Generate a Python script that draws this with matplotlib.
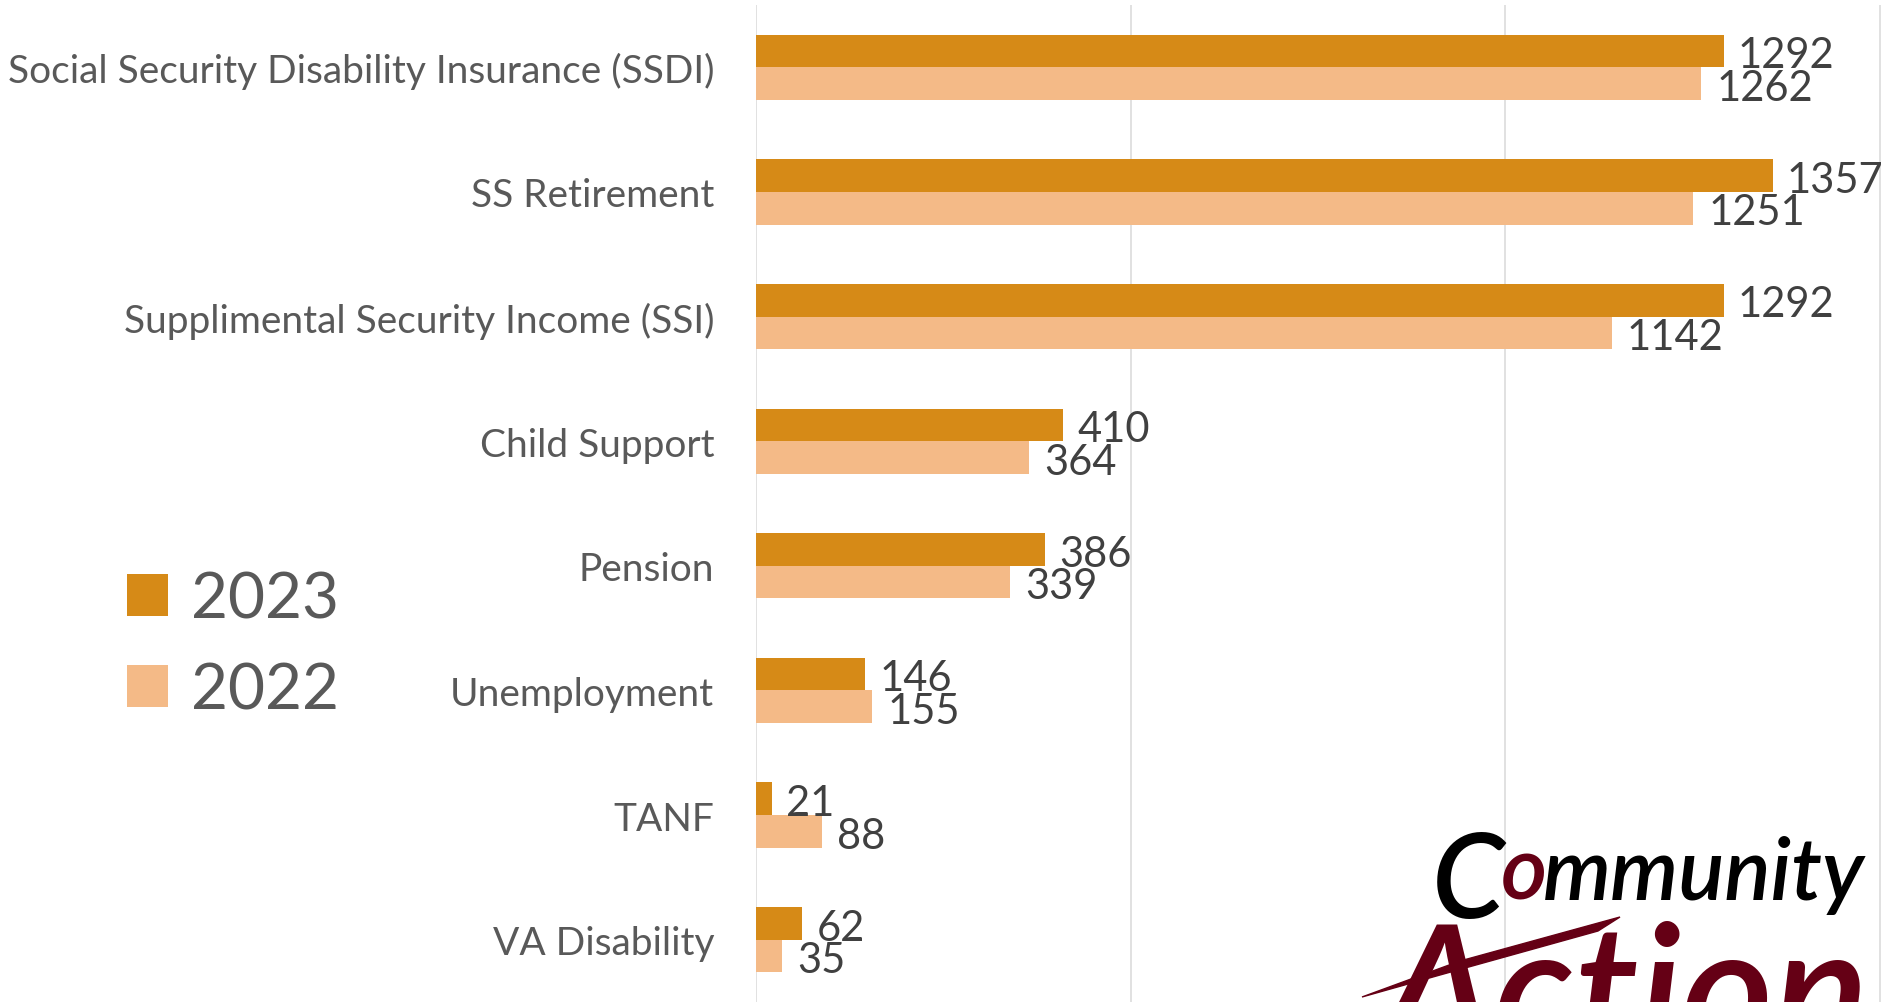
import matplotlib
matplotlib.use("Agg")
import matplotlib.pyplot as plt
from matplotlib.patches import Polygon
import numpy as np

categories = ["Social Security Disability Insurance (SSDI)", "SS Retirement",
              "Supplimental Security Income (SSI)", "Child Support", "Pension",
              "Unemployment", "TANF", "VA Disability"]
vals_2023 = [1292, 1357, 1292, 410, 386, 146, 21, 62]
vals_2022 = [1262, 1251, 1142, 364, 339, 155, 88, 35]
series_names = ["2023", "2022"]

c2023 = "#D68A17"
c2022 = "#F4BA87"
maroon = "#650015"

plt.rcParams['font.family'] = ['Lato', 'DejaVu Sans']

W, H = 1892, 1003
fig = plt.figure(figsize=(W / 100, H / 100), dpi=100)
ax = fig.add_axes([756 / W, 0.0, 1126 / W, 0.994])

y = np.arange(len(categories))
bh = 0.262
b1 = ax.barh(y - bh / 2, vals_2023, height=bh, color=c2023, label=series_names[0], zorder=3)
b2 = ax.barh(y + bh / 2, vals_2022, height=bh, color=c2022, label=series_names[1], zorder=3)

# data labels, nudged a little down like the original
for yy, vals, pad in [(y - bh / 2, vals_2023, 10), (y + bh / 2, vals_2022, 11)]:
    for yi, v in zip(yy, vals):
        ax.annotate(str(v), (v, yi), xytext=(pad, -3), textcoords='offset points',
                    ha='left', va='center', fontsize=30, color="#404040",
                    annotation_clip=False)

ax.set_ylim(len(categories) - 0.5, -0.5)
ax.set_xlim(0, 1503)
ax.set_xticks([0, 500, 1000, 1500])
ax.set_xticklabels([])
ax.set_yticks(y)
ax.set_yticklabels(categories, fontsize=28, color="#595959")
ax.tick_params(axis='both', length=0)
ax.tick_params(axis='y', pad=30)
ax.grid(axis='x', color="#D9D9D9", linewidth=1.1, zorder=0)
for s in ax.spines.values():
    s.set_visible(False)

fig.legend(handles=[b1, b2], loc='center left', bbox_to_anchor=(95 / W, 1 - 646 / H),
           frameon=False, fontsize=46, handlelength=0.64, handleheight=0.64,
           handletextpad=0.36, labelspacing=0.52, borderpad=0, labelcolor="#595959")

# logo (decoration)
def place(pieces, x, yb):
    r = fig.canvas.get_renderer()
    for txt, col, size, dy in pieces:
        t = fig.text(x / W, 1 - (yb + dy) / H, txt, color=col, fontsize=size,
                     fontstyle='italic', fontweight='semibold', va='baseline', ha='left')
        bb = t.get_window_extent(renderer=r)
        x = bb.x1 - 4
place([("C", "black", 84, 18), ("o", maroon, 64, 0), ("mmunity", "black", 62, 0)], 1432, 900)
place([("Action", maroon, 128, 0)], 1380, 1052)
fig.patches.append(Polygon([[1362 / W, 1 - 998 / H], [1460 / W, 1 - 962 / H],
                            [1620 / W, 1 - 918 / H], [1598 / W, 1 - 932 / H],
                            [1440 / W, 1 - 976 / H]],
                           closed=True, transform=fig.transFigure, color=maroon))

fig.savefig("out.png", dpi=100)
